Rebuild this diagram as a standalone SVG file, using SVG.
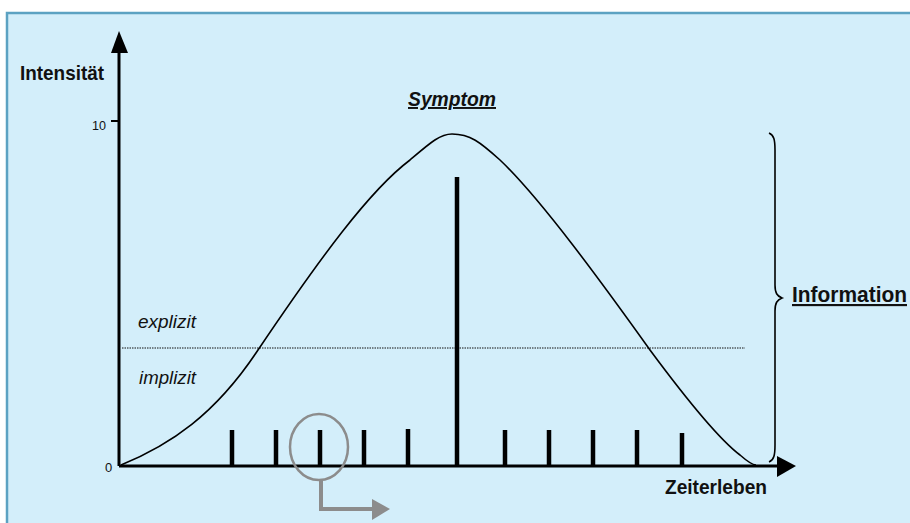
<svg xmlns="http://www.w3.org/2000/svg" width="910" height="523" viewBox="0 0 910 523">
<defs>
<style>
.lbl{font-family:"Liberation Sans",Arial,sans-serif;fill:#111}
.b{font-weight:bold}
.i{font-style:italic}
.axis{stroke:#000;stroke-width:3;fill:none}
.spike{stroke:#000;stroke-width:4.5}
.gray{stroke:#8c8c8c;fill:none;stroke-width:2.5}
</style>
</defs>
<rect x="7" y="13" width="910" height="520" fill="#d3eefa" stroke="#5ca2c2" stroke-width="2.5"/>
<g id="connectors">
<line class="axis" x1="119" y1="466" x2="119" y2="50"/>
<polygon points="111,53 119,31 128,53" fill="#000"/>
<line class="axis" x1="119" y1="466" x2="779" y2="466"/>
<polygon points="777,456 796,466 777,477" fill="#000"/>
<line x1="111" y1="121" x2="119" y2="121" stroke="#000" stroke-width="2"/>
<line x1="122" y1="348" x2="745" y2="348" stroke="#111" stroke-width="1" stroke-dasharray="1.5,1"/>
</g>
<g id="curve">
<path d="M121,465 C170,445 215,415 258,350 C320,258 370,190 410,160 C430,143 440,134 452,134 C470,134 480,142 500,160 C540,198 600,280 650,350 C690,404 720,440 740,455 C748,462 752,465 756,465" fill="none" stroke="#000" stroke-width="1.6"/>
</g>
<g id="spikes">
<line class="spike" x1="232" y1="430" x2="232" y2="466"/>
<line class="spike" x1="276" y1="430" x2="276" y2="466"/>
<line class="spike" x1="320" y1="430" x2="320" y2="466"/>
<line class="spike" x1="364" y1="430" x2="364" y2="466"/>
<line class="spike" x1="408" y1="429" x2="408" y2="466"/>
<line class="spike" x1="457" y1="177" x2="457" y2="466"/>
<line class="spike" x1="505" y1="430" x2="505" y2="466"/>
<line class="spike" x1="549" y1="430" x2="549" y2="466"/>
<line class="spike" x1="593" y1="430" x2="593" y2="466"/>
<line class="spike" x1="637" y1="430" x2="637" y2="466"/>
<line class="spike" x1="682" y1="433" x2="682" y2="466"/>
</g>
<g id="marker-circle">
<ellipse class="gray" cx="319" cy="447" rx="29" ry="33"/>
<polyline points="321,480 321,509 374,509" fill="none" stroke="#8c8c8c" stroke-width="4"/>
<polygon points="372,499 390,509 372,520" fill="#8c8c8c"/>
</g>
<g id="brace">
<path d="M769,133 C774,135 775,140 775,150 L775,285 C775,293 777,296 782,298 C777,300 775,303 775,311 L775,445 C775,455 774,460 769,462" fill="none" stroke="#000" stroke-width="1.6"/>
</g>
<g id="labels">
<text class="lbl b" x="20" y="80" font-size="21" textLength="84" lengthAdjust="spacingAndGlyphs">Intensität</text>
<text class="lbl" x="92" y="130" font-size="13" fill="#333" textLength="14" lengthAdjust="spacingAndGlyphs">10</text>
<text class="lbl" x="105" y="472" font-size="13" fill="#333">0</text>
<text class="lbl b i" x="408" y="106" font-size="19.5" text-decoration="underline" textLength="88" lengthAdjust="spacingAndGlyphs">Symptom</text>
<text class="lbl i" x="138" y="328" font-size="18" textLength="58" lengthAdjust="spacingAndGlyphs">explizit</text>
<text class="lbl i" x="139" y="384" font-size="18" textLength="57" lengthAdjust="spacingAndGlyphs">implizit</text>
<text class="lbl b" x="792" y="302" font-size="21.5" text-decoration="underline" textLength="115" lengthAdjust="spacingAndGlyphs">Information</text>
<text class="lbl b" x="665" y="494" font-size="20" textLength="102" lengthAdjust="spacingAndGlyphs">Zeiterleben</text>
</g>
</svg>
